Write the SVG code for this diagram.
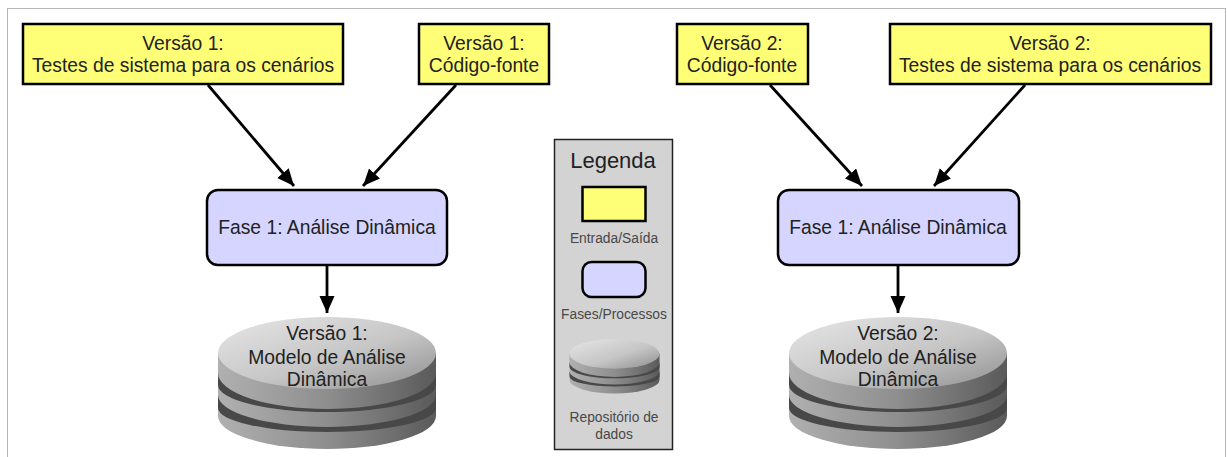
<svg xmlns="http://www.w3.org/2000/svg" width="1227" height="457" viewBox="0 0 1227 457">
<style>
text{font-family:"Liberation Sans",Arial,sans-serif;fill:#222;text-anchor:middle}
.t{font-size:19.300px}
.s{font-size:13.800px;fill:#484848}
.io{fill:#ffff77;stroke:#000;stroke-width:2.500}
.ph{fill:#d5d5ff;stroke:#000;stroke-width:2.500}
.c{stroke:#000;stroke-width:2.800;fill:none;marker-end:url(#a)}
</style>
<defs>
<marker id="a" markerUnits="userSpaceOnUse" markerWidth="20" markerHeight="16" refX="17" refY="7.500" orient="auto"><path d="M0 0L17 7.500L0 15Z" fill="#000"/></marker>
<linearGradient id="side" x1="0" x2="1" y1="0" y2="0"><stop offset="0" stop-color="#b0b0b0"/><stop offset=".5" stop-color="#8e8e8e"/><stop offset="1" stop-color="#5a5a5a"/></linearGradient>
<linearGradient id="top" x1="0" x2="1" y1="0" y2="1"><stop offset="0" stop-color="#e6e6e6"/><stop offset=".55" stop-color="#c6c6c6"/><stop offset="1" stop-color="#8e8e8e"/></linearGradient>
<g id="db">
<path d="M0 36V99A109 33 0 0 0 218 99V36Z" fill="url(#side)"/>
<path d="M0 56A109 36 0 0 0 218 56V68A109 27 0 0 1 0 68Z" fill="#484848"/>
<path d="M0 78A109 32 0 0 0 218 78V91A109 24 0 0 1 0 91Z" fill="#484848"/>
<ellipse cx="109" cy="36" rx="109" ry="36" fill="url(#top)"/>
</g>
</defs>
<rect x="7.500" y="8.500" width="1218" height="460" fill="#fff" stroke="#b5b5b5"/>
<g id="connectors">
<line class="c" x1="208" y1="85" x2="294" y2="186"/>
<line class="c" x1="456" y1="85" x2="363" y2="186"/>
<line class="c" x1="327" y1="265" x2="327" y2="313"/>
<line class="c" x1="770" y1="85" x2="862" y2="186"/>
<line class="c" x1="1025" y1="85" x2="934" y2="186"/>
<line class="c" x1="898" y1="265" x2="898" y2="313"/>
</g>
<g id="in1"><rect class="io" x="23" y="24" width="320" height="60"/><text class="t" x="183" y="50">Versão 1:</text><text class="t" x="183" y="72">Testes de sistema para os cenários</text></g>
<g id="code1"><rect class="io" x="419" y="24" width="130" height="60"/><text class="t" x="484" y="50">Versão 1:</text><text class="t" x="484" y="72">Código-fonte</text></g>
<g id="code2"><rect class="io" x="677" y="24" width="131" height="60"/><text class="t" x="742" y="50">Versão 2:</text><text class="t" x="742" y="72">Código-fonte</text></g>
<g id="in2"><rect class="io" x="890" y="24" width="321" height="60"/><text class="t" x="1050" y="50">Versão 2:</text><text class="t" x="1050" y="72">Testes de sistema para os cenários</text></g>
<g id="phase1"><rect class="ph" x="207" y="190" width="240" height="75" rx="11"/><text class="t" x="327" y="234">Fase 1: Análise Dinâmica</text></g>
<g id="phase2"><rect class="ph" x="778" y="190" width="241" height="75" rx="11"/><text class="t" x="898" y="234">Fase 1: Análise Dinâmica</text></g>
<g id="repo1"><use href="#db" x="218" y="317"/><text class="t" x="327" y="340">Versão 1:</text><text class="t" x="327" y="364">Modelo de Análise</text><text class="t" x="327" y="386">Dinâmica</text></g>
<g id="repo2"><use href="#db" x="789" y="317"/><text class="t" x="898" y="340">Versão 2:</text><text class="t" x="898" y="364">Modelo de Análise</text><text class="t" x="898" y="386">Dinâmica</text></g>
<g id="legend">
<rect x="554.500" y="139.500" width="118" height="310" fill="#d3d3d3" stroke="#222" stroke-width="1.500"/>
<text x="613" y="168" font-size="22">Legenda</text>
<rect class="io" x="582.500" y="187" width="63" height="34"/>
<text class="s" x="614" y="243">Entrada/Saída</text>
<rect class="ph" x="582.500" y="262" width="63" height="35" rx="9"/>
<text class="s" x="614" y="319">Fases/Processos</text>
<use href="#db" transform="translate(569.500 339) scale(.413)"/>
<text class="s" x="614" y="422">Repositório de</text>
<text class="s" x="614" y="439">dados</text>
</g>
</svg>
